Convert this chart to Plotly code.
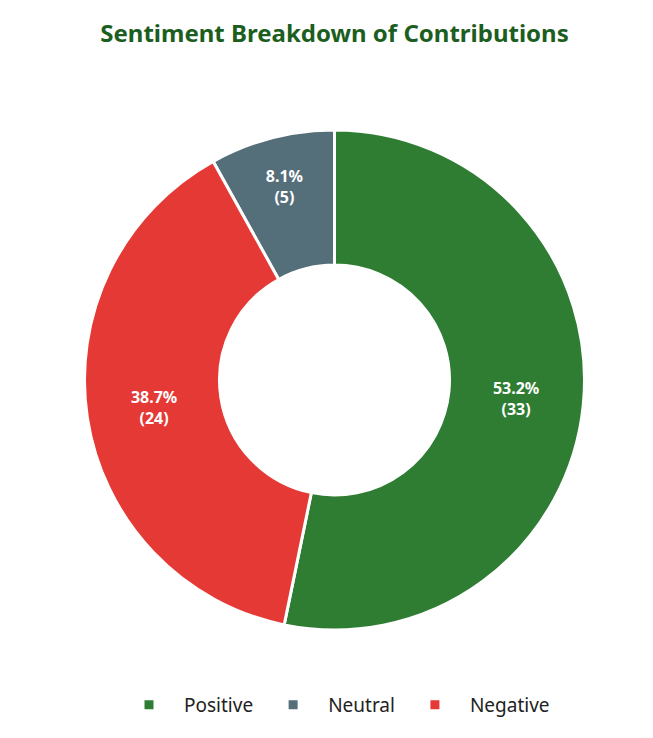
import plotly.graph_objects as go

labels = ["Positive", "Neutral", "Negative"]
counts = [33, 5, 24]
colors = ["#2e7d32", "#546e7a", "#e53935"]

fig = go.Figure(go.Pie(
    labels=labels, values=counts, hole=0.46, sort=False,
    direction="counterclockwise", rotation=0,
    marker=dict(colors=colors, line=dict(color="white", width=3)),
    texttemplate="<b>%{percent:.1%}<br>(%{value})</b>",
    textposition="inside", insidetextorientation="horizontal",
    textfont=dict(color="white", size=16, family="Noto Sans"),
))
fig.update_layout(
    width=653, height=738, paper_bgcolor="white",
    font=dict(family="Noto Sans"),
    title=dict(text="<b>Sentiment Breakdown of Contributions</b>", x=0.5, y=0.965,
               xanchor="center", yanchor="middle", font=dict(size=24, color="#1b5e20")),
    margin=dict(t=122, b=116, l=40, r=40),
    legend=dict(orientation="h", x=0.5, xanchor="center", y=-0.15, yanchor="middle",
                font=dict(size=19, color="#222"), itemwidth=60, traceorder="normal"),
)
fig.write_html("out.html")
